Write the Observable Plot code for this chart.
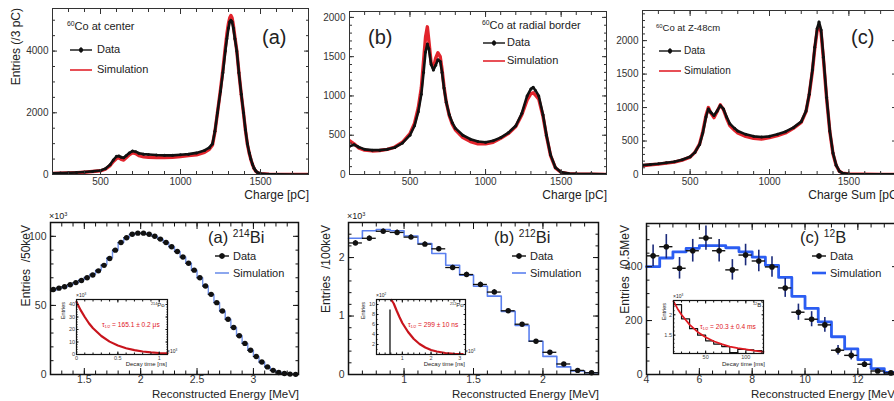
<!DOCTYPE html>
<html><head><meta charset="utf-8">
<script src="https://cdn.jsdelivr.net/npm/d3@7"></script>
<script src="https://cdn.jsdelivr.net/npm/@observablehq/plot@0.6"></script>
<style>
body{margin:0;background:#fff;}
#root{position:relative;width:894px;height:401px;overflow:hidden;background:#fff;font-family:"Liberation Sans",Arial,Helvetica,sans-serif;color:#222;}
.t{position:absolute;white-space:nowrap;line-height:1;}
.t sup{font-size:62%;vertical-align:0.55em;line-height:0;}
.t sub{font-size:62%;vertical-align:-0.25em;line-height:0;}
.rot{transform-origin:0 0;transform:rotate(-90deg);text-align:right;}
</style></head><body><div id="root"></div>
<script>
// ---------------- DATA ----------------
// Top row: 60Co charge spectra (x in pC)
const topA_x    = [200,250,300,350,400,450,500,530,560,580,600,615,630,645,660,680,700,720,740,770,800,850,900,950,1000,1050,1100,1150,1180,1200,1215,1231,1250,1265,1280,1290,1300,1308,1315,1322,1330,1340,1352,1365,1380,1394,1406,1418,1430,1440,1450,1460,1470,1480,1500,1550,1600,1700,1800];
const topA_data = [40,45,55,65,80,100,130,190,320,470,590,600,560,540,610,700,760,740,690,660,650,630,620,620,640,660,700,780,870,1000,1400,2000,2700,3300,4000,4400,4750,4950,5000,4950,4750,4400,4000,3300,2600,2000,1450,1000,700,500,330,200,120,70,30,10,5,2,1];
const topA_sim  = [35,42,50,60,75,95,120,170,290,420,520,540,490,470,540,640,700,680,610,570,560,550,550,560,580,610,640,720,820,960,1380,2000,2750,3400,4100,4550,4900,5080,5150,5080,4850,4450,4000,3300,2580,1980,1430,980,680,480,320,190,110,65,28,9,4,2,1];

const topB_x    = [100,130,160,200,250,300,350,400,450,500,530,555,575,590,603,615,625,640,655,670,685,700,712,725,740,760,780,800,850,900,950,1000,1050,1100,1150,1200,1240,1275,1300,1315,1330,1352,1380,1403,1430,1462,1500,1550,1600,1700,1800];
const topB_data = [360,380,350,320,310,310,320,345,400,500,620,800,1020,1300,1560,1660,1600,1400,1330,1390,1460,1440,1300,1100,920,760,660,590,500,450,420,410,430,470,530,620,780,1000,1090,1110,1070,1000,760,500,250,90,30,12,8,5,3];
const topB_sim  = [430,390,340,310,300,305,320,350,410,520,650,850,1100,1450,1750,1880,1700,1420,1350,1480,1550,1500,1340,1120,920,750,640,570,470,420,390,390,410,460,520,610,760,950,1030,1040,1010,960,740,490,240,85,28,10,6,4,2];

const topC_x    = [200,250,300,350,400,450,500,530,560,580,600,615,630,650,670,690,710,730,750,780,800,850,900,950,1000,1050,1100,1150,1200,1230,1250,1270,1285,1300,1312,1325,1340,1360,1380,1400,1420,1440,1460,1500,1600,1700,1800];
const topC_data = [140,150,160,175,190,220,265,330,450,620,860,980,930,880,950,1030,980,860,760,690,650,600,570,560,570,600,640,700,790,950,1200,1560,1900,2180,2280,2160,1750,1150,650,320,140,50,20,8,3,2,1];
const topC_sim  = [130,145,155,170,185,215,260,330,460,640,880,1000,920,850,940,1040,970,840,730,660,620,570,540,530,550,580,620,690,780,940,1190,1540,1880,2150,2230,2120,1720,1130,640,310,135,48,18,7,3,2,1];

// Bottom row (a) 214Bi, 50 keV bins (x10^3 entries)
const botA_x    = [1.225,1.275,1.325,1.375,1.425,1.475,1.525,1.575,1.625,1.675,1.725,1.775,1.825,1.875,1.925,1.975,2.025,2.075,2.125,2.175,2.225,2.275,2.325,2.375,2.425,2.475,2.525,2.575,2.625,2.675,2.725,2.775,2.825,2.875,2.925,2.975,3.025,3.075,3.125,3.175,3.225,3.275,3.325,3.375];
const botA_data = [61.5,62.5,63.5,65,66.5,68,70,72,75,79,84,90,95.5,99,101.5,102.3,102.3,101.5,100,98,95.5,92.5,89,85,80.5,75.5,70,64,58,52,46,40,34,28,22.5,17.5,13,9,5.5,3,1.5,0.7,0.3,0.1];
const botA_sim  = [61,62.5,63.5,65,66.5,68.5,70.5,72.5,75.5,79.5,84.5,90,95.5,99,101.3,102.3,102.2,101.5,100,98,95.5,92.5,89,85,80.5,75.5,70,64,58,52,46,40,34,28,22.5,17.5,13,9,5.5,3,1.5,0.7,0.3,0.1];
const botA_halfBin = 0.025;

// (b) 212Bi, 100 keV bins (x10^3 entries)
const botB_x    = [0.65,0.75,0.85,0.95,1.05,1.15,1.25,1.35,1.45,1.55,1.65,1.75,1.85,1.95,2.05,2.15,2.25,2.35];
const botB_data = [2.25,2.33,2.45,2.43,2.35,2.23,2.15,1.83,1.71,1.54,1.41,1.09,0.86,0.57,0.38,0.18,0.07,0.03];
const botB_err  = [0.04,0.04,0.04,0.04,0.04,0.04,0.04,0.04,0.04,0.04,0.04,0.03,0.03,0.03,0.03,0.02,0.02,0.01];
const botB_sim  = [2.33,2.46,2.48,2.46,2.37,2.24,2.07,1.87,1.70,1.51,1.34,1.08,0.84,0.57,0.31,0.13,0.06,0.03];
const botB_halfBin = 0.05;

// (c) 12B, 0.5 MeV bins
const botC_x    = [4.25,4.75,5.25,5.75,6.25,6.75,7.25,7.75,8.25,8.75,9.25,9.75,10.25,10.75,11.25,11.75,12.25,12.75,13.25];
const botC_data = [440,474,394,459,506,459,388,443,421,399,321,231,205,184,90,71,38,13,6];
const botC_err  = [40,45,40,42,45,42,38,40,40,38,35,30,28,27,18,17,12,7,5];
const botC_sim  = [400,432,455,468,478,478,470,455,435,405,360,290,245,195,140,95,55,22,8];
const botC_halfBin = 0.25;

// Insets (decay time)
const insA_t = [0,0.05,0.1,0.15,0.2,0.3,0.4,0.5,0.6,0.7,0.8,0.9,1.0,1.1];
const insA_v = [42,35.5,30,25,21,14.8,10.3,7.2,5,3.5,2.4,1.7,1.2,1.0];
const insB_gateT = [0.57];
const insB_gateV = [8.9];
const insB_t = [0.62,0.7,0.8,0.9,1.0,1.2,1.4,1.6,1.8,2.0,2.2,2.5,2.8,3.1];
const insB_v = [10.9,10.2,8.8,7.5,6.3,4.5,3.1,2.1,1.4,0.9,0.6,0.3,0.15,0.1];
const insC_edges = [10,20,30,40,50,60,70,80,90,100,110,120];
const insC_hist  = [2.25,1.90,1.66,1.50,1.36,1.28,1.22,1.07,1.15,1.14,1.12];
const insC_t = [10,15,20,30,40,50,60,70,80,90,100,110,122];
const insC_v = [2.33,2.15,2.0,1.76,1.58,1.45,1.35,1.28,1.22,1.18,1.15,1.12,1.09];

// ---------------- HELPERS ----------------
const FONT = '"Liberation Sans",Arial,Helvetica,sans-serif';
const RED = "#e2242c", INK = "#111";
const root = document.getElementById("root");
const zip = (xs, ...cols) => xs.map((x, i) => Object.fromEntries([["x", x], ...cols.map(([k, a]) => [k, a[i]])]));
function steps(centers, vals, half) {
  const out = [];
  centers.forEach((c, i) => { out.push({x: c - half, y: vals[i]}); out.push({x: c + half, y: vals[i]}); });
  return out;
}
function edgesSteps(edges, vals) {
  const out = [];
  vals.forEach((v, i) => { out.push({x: edges[i], y: v}); out.push({x: edges[i + 1], y: v}); });
  return out;
}
function range(a, b, s) { const r = []; for (let v = a; v <= b + 1e-9; v += s) r.push(+v.toFixed(6)); return r; }

function panel(o) {
  const ml = o.ml, mr = o.mr ?? 4, mt = o.mt ?? 4, mb = o.mb;
  const W = (o.R - o.L) + ml + mr, H = (o.B - o.T) + mt + mb;
  const fmt = d => String(d);
  const blank = () => "";
  const col = o.tickColor ?? "#111";
  const axX = (anchor, ticks, size, lab) => Plot.axisX({anchor, ticks, tickSize: size, tickPadding: lab ? o.tp : 0,
    tickFormat: lab ? (o.xfmt ?? fmt) : blank, label: null, color: lab ? (o.labColor ?? "#333") : col, strokeWidth: o.tw ?? 1});
  const axY = (anchor, ticks, size, lab) => Plot.axisY({anchor, ticks, tickSize: size, tickPadding: lab ? o.tpy ?? o.tp : 0,
    tickFormat: lab ? (o.yfmt ?? fmt) : blank, label: null, color: lab ? (o.labColor ?? "#333") : col, strokeWidth: o.tw ?? 1});
  const marks = [
    o.inset ? Plot.frame({fill: "white", stroke: null}) : null,
    ...o.marks,
    axX("bottom", o.xMajor, 0, true),
    axY("left", o.yMajor, 0, true),
    axX("bottom", o.xMajor, -o.tk), axX("bottom", o.xMinor, -o.tkm),
    axX("top", o.xMajor, -o.tk), axX("top", o.xMinor, -o.tkm),
    axY("left", o.yMajor, -o.tk), axY("left", o.yMinor, -o.tkm),
    axY("right", o.yMajor, -o.tk), axY("right", o.yMinor, -o.tkm),
    Plot.frame({stroke: o.frameColor ?? "#111", strokeWidth: o.sw ?? 1.2})
  ].filter(Boolean);
  const svg = Plot.plot({
    width: W, height: H, marginLeft: ml, marginRight: mr, marginTop: mt, marginBottom: mb,
    x: {domain: o.xdom}, y: {domain: o.ydom},
    style: {background: "transparent", overflow: "visible", fontFamily: FONT, fontSize: o.fs + "px", maxWidth: "none"},
    marks
  });
  svg.style.position = "absolute";
  svg.style.left = (o.L - ml) + "px";
  svg.style.top = (o.T - mt) + "px";
  root.appendChild(svg);
}

function text(html, left, top, fs, extra = {}) {
  const d = document.createElement("div");
  d.className = "t"; d.innerHTML = html;
  Object.assign(d.style, {left: left + "px", top: top + "px", fontSize: fs + "px"}, extra);
  root.appendChild(d);
  return d;
}
function rtext(html, right, top, fs, extra = {}) {
  const W = 300;
  return text(html, right - W, top, fs, Object.assign({width: W + "px", textAlign: "right"}, extra));
}
function vtext(html, left, yEnd, fs, extra = {}) {
  const W = 200;
  const d = text(html, left, yEnd + W, fs, Object.assign({width: W + "px"}, extra));
  d.classList.add("rot");
  return d;
}
function swatch(left, cy, w, kind, color) {
  const ns = "http://www.w3.org/2000/svg";
  const s = document.createElementNS(ns, "svg");
  s.setAttribute("width", w); s.setAttribute("height", 12);
  Object.assign(s.style, {position: "absolute", left: left + "px", top: (cy - 6) + "px", overflow: "visible"});
  const ln = document.createElementNS(ns, "line");
  ln.setAttribute("x1", 0); ln.setAttribute("x2", w); ln.setAttribute("y1", 6); ln.setAttribute("y2", 6);
  if (kind === "data") {
    ln.setAttribute("stroke", color); ln.setAttribute("stroke-width", 1.4);
    s.appendChild(ln);
    const v = document.createElementNS(ns, "line");
    v.setAttribute("x1", w / 2); v.setAttribute("x2", w / 2); v.setAttribute("y1", 3); v.setAttribute("y2", 9);
    v.setAttribute("stroke", color); v.setAttribute("stroke-width", 1);
    s.appendChild(v);
    const c = document.createElementNS(ns, "circle");
    c.setAttribute("cx", w / 2); c.setAttribute("cy", 6); c.setAttribute("r", w > 16 ? 2.2 : 2.8); c.setAttribute("fill", color);
    s.appendChild(c);
  } else {
    ln.setAttribute("stroke", color); ln.setAttribute("stroke-width", kind === "thick" ? 2.6 : 1.6);
    s.appendChild(ln);
  }
  root.appendChild(s);
}

// ---------------- TOP ROW ----------------
const topOpts = {ml: 40, mb: 18, tp: 3, tpy: 4, fs: 10, tk: 5, tkm: 3, sw: 1, frameColor: "#333", tickColor: "#333"};
const tA = zip(topA_x, ["data", topA_data], ["sim", topA_sim]);
const tB = zip(topB_x, ["data", topB_data], ["sim", topB_sim]);
const tC = zip(topC_x, ["data", topC_data], ["sim", topC_sim]);
const topMarks = t => [
  Plot.line(t, {x: "x", y: "sim", stroke: RED, strokeWidth: 3.4, clip: true}),
  Plot.line(t, {x: "x", y: "data", stroke: INK, strokeWidth: 2.6, clip: true}),
  Plot.dot(t, {x: "x", y: "data", r: 1.5, fill: INK, clip: true})
];
panel({...topOpts, L: 52, R: 308, T: 8, B: 174, xdom: [200, 1800], ydom: [0, 5380],
  xMajor: [500, 1000, 1500], xMinor: range(200, 1800, 100), yMajor: [0, 2000, 4000], yMinor: range(0, 5000, 500),
  marks: topMarks(tA)});
panel({...topOpts, L: 349, R: 606, T: 11, B: 174, xdom: [100, 1800], ydom: [0, 2075],
  xMajor: [500, 1000, 1500], xMinor: range(100, 1800, 100), yMajor: [0, 500, 1000, 1500, 2000], yMinor: range(0, 2000, 100),
  marks: topMarks(tB)});
panel({...topOpts, L: 642, R: 896, T: 10, B: 174, xdom: [200, 1800], ydom: [0, 2450],
  xMajor: [500, 1000, 1500], xMinor: range(200, 1800, 100), yMajor: [0, 500, 1000, 1500, 2000], yMinor: range(0, 2400, 100),
  marks: topMarks(tC)});

// top labels
text("(a)", 262, 27, 20);
text("(b)", 368, 27, 20);
text("(c)", 851, 27, 20);
text("<sup>60</sup>Co at center", 67, 21, 11);
text("<sup>60</sup>Co at radial border", 482, 20, 11);
text("<sup>60</sup>Co at Z-48cm", 656, 23, 9.5);
swatch(70, 50, 22, "data", INK); text("Data", 97, 44, 11);
swatch(70, 70, 22, "line", RED); text("Simulation", 97, 64, 11);
swatch(483, 43, 22, "data", INK); text("Data", 507, 37, 11);
swatch(483, 61, 22, "line", RED); text("Simulation", 507, 55, 11);
swatch(659, 51, 22, "data", INK); text("Data", 684, 45.5, 10);
swatch(659, 70.5, 22, "line", RED); text("Simulation", 684, 65.5, 10);
rtext("Charge [pC]", 309, 188.5, 12);
rtext("Charge [pC]", 607, 188.5, 12);
rtext("Charge Sum [pC]", 901, 188.5, 12);
vtext("Entries (/3 pC)", 10, 8, 12);

// ---------------- BOTTOM ROW ----------------
const botOpts = {ml: 30, mb: 14, tp: 1.5, tpy: 4, fs: 10.5, tk: 6, tkm: 3.5, sw: 1.5, frameColor: "#111", tickColor: "#111", labColor: "#333"};
const bA = zip(botA_x, ["v", botA_data]);
const bB = zip(botB_x, ["v", botB_data], ["e", botB_err]);
const bC = zip(botC_x, ["v", botC_data], ["e", botC_err]);

panel({...botOpts, L: 50, R: 298, T: 222, B: 374, xdom: [1.2, 3.4], ydom: [0, 110],
  xMajor: [1.5, 2, 2.5, 3], xMinor: range(1.2, 3.4, 0.1), yMajor: [0, 50, 100], yMinor: range(0, 110, 10),
  marks: [
    Plot.line(steps(botA_x, botA_sim, botA_halfBin), {x: "x", y: "y", stroke: "#6f91ea", strokeWidth: 1.4}),
    Plot.ruleY(bA, {y: "v", x1: d => d.x - botA_halfBin, x2: d => d.x + botA_halfBin, stroke: INK, strokeWidth: 1.2}),
    Plot.dot(bA, {x: "x", y: "v", r: 2.7, fill: INK})
  ]});
panel({...botOpts, L: 348, R: 598, T: 222, B: 374, xdom: [0.6, 2.4], ydom: [0, 2.6],
  xMajor: [1, 1.5, 2], xMinor: range(0.6, 2.4, 0.1), yMajor: [0, 1, 2], yMinor: range(0, 2.6, 0.2),
  marks: [
    Plot.line(steps(botB_x, botB_sim, botB_halfBin), {x: "x", y: "y", stroke: "#5b80ef", strokeWidth: 1.6}),
    Plot.ruleY(bB, {y: "v", x1: d => d.x - botB_halfBin, x2: d => d.x + botB_halfBin, stroke: INK, strokeWidth: 1.3}),
    Plot.ruleX(bB, {x: "x", y1: d => d.v - d.e, y2: d => d.v + d.e, stroke: INK, strokeWidth: 1.3}),
    Plot.dot(bB, {x: "x", y: "v", r: 2.7, fill: INK})
  ]});
panel({...botOpts, L: 646, R: 897, T: 223, B: 374, xdom: [4, 13.5], ydom: [0, 560],
  xMajor: [4, 6, 8, 10, 12], xMinor: range(4, 13.5, 0.5), yMajor: [0, 200, 400], yMinor: range(0, 550, 50),
  marks: [
    Plot.line(steps(botC_x, botC_sim, botC_halfBin), {x: "x", y: "y", stroke: "#2b5df2", strokeWidth: 2.8}),
    Plot.ruleY(bC, {y: "v", x1: d => d.x - botC_halfBin, x2: d => d.x + botC_halfBin, stroke: INK, strokeWidth: 1.4}),
    Plot.ruleX(bC, {x: "x", y1: d => d.v - d.e, y2: d => d.v + d.e, stroke: "#1a2a7a", strokeWidth: 1.6}),
    Plot.dot(bC, {x: "x", y: "v", r: 2.8, fill: INK})
  ]});

// insets
const insOpts = {inset: true, ml: 12, mr: 2, mt: 2, mb: 8, tp: 1.5, fs: 5.5, tk: 2.5, tkm: 1.5, sw: 1.2, frameColor: "#111", tickColor: "#111", labColor: "#444"};
panel({...insOpts, L: 76, R: 167, T: 299, B: 354, xdom: [0, 1.1], ydom: [0, 44],
  xMajor: [0, 0.5, 1], xMinor: range(0, 1.1, 0.1), yMajor: [0, 10, 20, 30, 40], yMinor: range(0, 44, 2),
  marks: [Plot.line(zip(insA_t, ["v", insA_v]), {x: "x", y: "v", stroke: "#c8141c", strokeWidth: 2.2})]});
panel({...insOpts, L: 376, R: 465, T: 299, B: 354, xdom: [0.1, 3.2], ydom: [0, 11],
  xMajor: [1, 2, 3], xMinor: range(0.2, 3.2, 0.2), yMajor: [2, 4, 6, 8, 10], yMinor: range(0, 11, 1),
  marks: [
    Plot.ruleX(zip(insB_gateT, ["v", insB_gateV]), {x: "x", y1: 0, y2: "v", stroke: INK, strokeWidth: 1.3}),
    Plot.line(zip(insB_t, ["v", insB_v]), {x: "x", y: "v", stroke: "#c8141c", strokeWidth: 2.2})
  ]});
panel({...insOpts, L: 673, R: 763, T: 300, B: 353, xdom: [10, 122], ydom: [1.05, 2.35],
  xMajor: [50, 100], xMinor: range(10, 120, 10), yMajor: [1.5, 2], yMinor: range(1.1, 2.3, 0.1),
  marks: [
    Plot.line(edgesSteps(insC_edges, insC_hist), {x: "x", y: "y", stroke: INK, strokeWidth: 1.2}),
    Plot.line(zip(insC_t, ["v", insC_v]), {x: "x", y: "v", stroke: "#e01a22", strokeWidth: 1.8})
  ]});

// bottom labels
text("(a) <sup>214</sup>Bi", 208, 229, 16.5);
text("(b) <sup>212</sup>Bi", 494, 229, 16.5);
text("(c) <sup>12</sup>B", 800, 229, 16.5);
swatch(215, 256, 14, "data", INK); text("Data", 233, 250.5, 11);
swatch(215, 273, 14, "line", "#6f91ea"); text("Simulation", 233, 267.5, 11);
swatch(512, 256, 14, "data", INK); text("Data", 530, 250.5, 11);
swatch(512, 273, 14, "line", "#5b80ef"); text("Simulation", 530, 267.5, 11);
swatch(812, 256, 14, "data", INK); text("Data", 830, 250.5, 11);
swatch(812, 273, 14, "thick", "#2b5df2"); text("Simulation", 830, 267.5, 11);
rtext("Reconstructed Energy [MeV]", 299, 389, 11.5);
rtext("Reconstructed Energy [MeV]", 599, 389, 11.5);
rtext("Reconstructed Energy [MeV]", 898, 389, 11.5);
vtext("Entries&nbsp; /50keV", 20, 225, 12);
vtext("Entries&nbsp; /100keV", 320, 225, 12);
vtext("Entries&nbsp; /0.5MeV", 619, 225, 12);
text("×10<sup>3</sup>", 49, 212, 9);
text("×10<sup>3</sup>", 347, 212, 9);

// inset texts
const red = "color:#e0141c";
text("×10<sup>3</sup>", 76, 293, 5);
text("×10<sup>3</sup>", 167, 349, 5);
text("<sup>214</sup>Po", 151, 302, 6);
text(`<span style="${red}">τ<sub>1/2</sub> = 165.1 ± 0.2 μs</span>`, 102, 322, 6.6);
vtext("Entries", 61, 302, 5.5);
rtext("Decay time [ns]", 167, 361, 6);

text("×10<sup>2</sup>", 376, 293, 5);
text("×10<sup>3</sup>", 465, 349, 5);
text("<sup>212</sup>Po", 450, 302, 6);
text(`<span style="${red}">τ<sub>1/2</sub> = 299 ± 10 ns</span>`, 408, 322, 6.6);
vtext("Entries", 361, 302, 5.5);
rtext("Decay time [ns]", 465, 361, 6);

text("×10<sup>3</sup>", 673, 294, 5);
text("<sup>12</sup>B", 753, 302, 6);
text(`<span style="${red}">τ<sub>1/2</sub> = 20.3 ± 0.4 ms</span>`, 700, 324, 6.6);
vtext("Entries", 662, 303, 5.5);
rtext("Decay time [ms]", 765, 361, 6);
</script></body></html>
